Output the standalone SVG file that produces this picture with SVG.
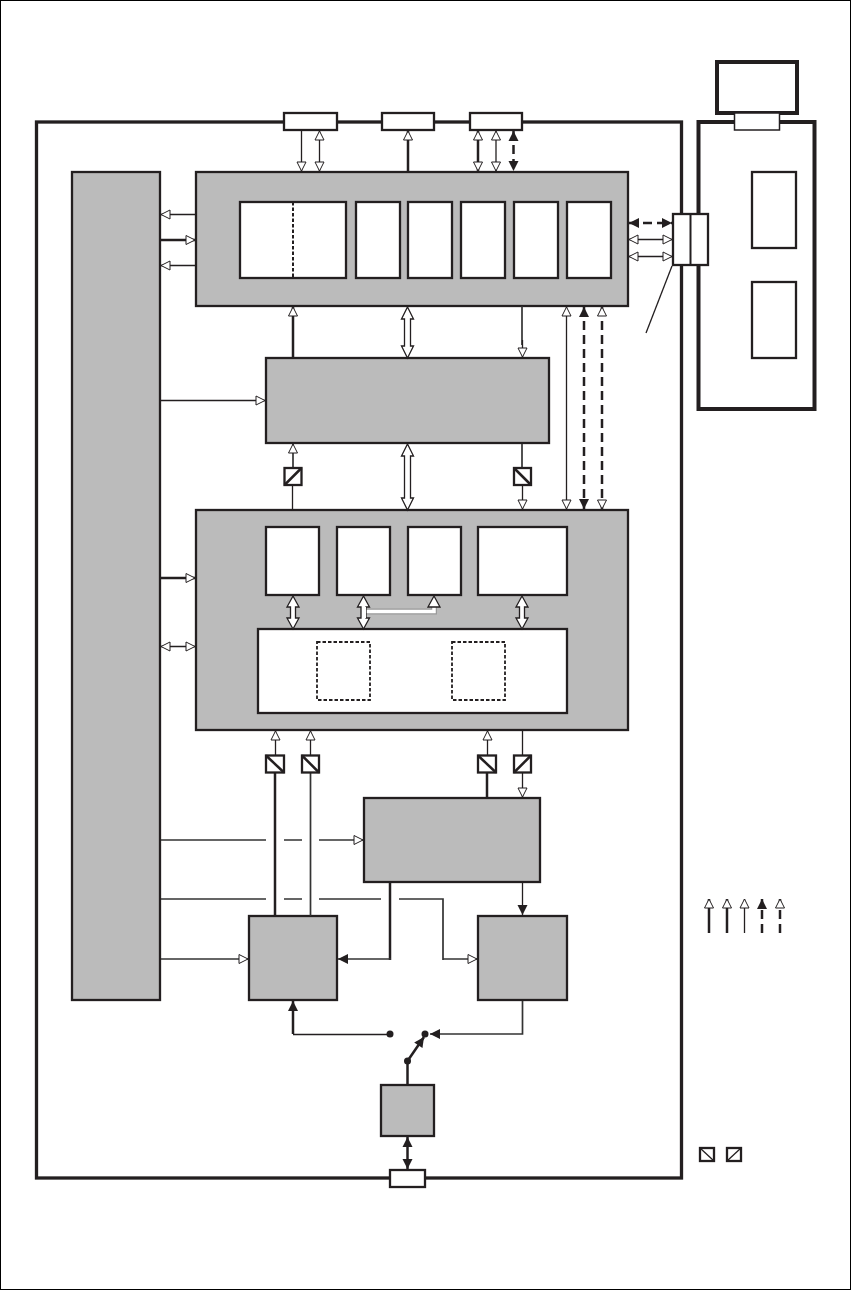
<svg xmlns="http://www.w3.org/2000/svg" width="851" height="1290" viewBox="0 0 851 1290">
<style>
.g{fill:#bbb;stroke:#231f20;stroke-width:2.300}
.w{fill:#fff;stroke:#231f20;stroke-width:2.300}
.d{fill:#fff;stroke:#231f20;stroke-width:1.800;stroke-dasharray:3.500 2}
.l{fill:none;stroke:#231f20;stroke-width:1.300}
.m{fill:none;stroke:#333;stroke-width:1.700}
.t{fill:none;stroke:#231f20;stroke-width:2.500}
.k{fill:none;stroke:#231f20;stroke-width:2.500;stroke-dasharray:9 5}
.wide{fill:#fff;stroke:#231f20;stroke-width:1.300}
.o{marker-end:url(#open)}
.os{marker-start:url(#open)}
.f{marker-end:url(#fill)}
.fs{marker-start:url(#fill)}
</style>
<defs>
<marker id="open" markerUnits="userSpaceOnUse" markerWidth="13" markerHeight="13" refX="9.500" refY="5.500" orient="auto-start-reverse" overflow="visible"><path d="M0.500 1 L9.500 5.500 L0.500 10Z" fill="#fff" stroke="#231f20" stroke-width="1"/></marker>
<marker id="fill" markerUnits="userSpaceOnUse" markerWidth="13" markerHeight="13" refX="10" refY="5.500" orient="auto-start-reverse" overflow="visible"><path d="M0 0.500 L10 5.500 L0 10.500Z" fill="#231f20"/></marker>
</defs>
<rect x="0.500" y="0.500" width="850" height="1289" fill="#fff" stroke="#000" stroke-width="1"/>
<g id="main-frame"><rect x="36.500" y="122" width="645" height="1056" fill="#fff" stroke="#231f20" stroke-width="3.300"/></g>
<g id="display-unit">
<rect x="698.500" y="122" width="116" height="287" fill="#fff" stroke="#231f20" stroke-width="4"/>
<rect x="752" y="172" width="44" height="76" class="w"/>
<rect x="752" y="282" width="44" height="76" class="w"/>
</g>
<g id="monitor"><rect x="717" y="62" width="80" height="51" fill="#fff" stroke="#231f20" stroke-width="4"/></g>
<g id="display-port"><rect x="734.500" y="113" width="45" height="17" fill="#fff" stroke="#231f20" stroke-width="1.500"/></g>
<g id="port-a"><rect x="284" y="113" width="53" height="17" class="w"/></g>
<g id="port-b"><rect x="382" y="113" width="52" height="17" class="w"/></g>
<g id="port-c"><rect x="470" y="113" width="52" height="17" class="w"/></g>
<g id="bottom-port"><rect x="390" y="1170" width="35" height="17" class="w"/></g>
<g id="left-block"><rect x="72" y="172" width="88" height="828" class="g"/></g>
<g id="top-block">
<rect x="196" y="172" width="432" height="134" class="g"/>
<rect x="240" y="202" width="106" height="76" class="w"/>
<line x1="293" y1="202" x2="293" y2="278" stroke="#231f20" stroke-width="2" stroke-dasharray="3.500 2"/>
<rect x="356" y="202" width="44" height="76" class="w"/>
<rect x="408" y="202" width="44" height="76" class="w"/>
<rect x="461" y="202" width="44" height="76" class="w"/>
<rect x="514" y="202" width="44" height="76" class="w"/>
<rect x="567" y="202" width="44" height="76" class="w"/>
</g>
<g id="middle-block"><rect x="266" y="358" width="283" height="85" class="g"/></g>
<g id="lower-block">
<rect x="196" y="510" width="432" height="220" class="g"/>
<rect x="266" y="527" width="53" height="68" class="w"/>
<rect x="337" y="527" width="53" height="68" class="w"/>
<rect x="408" y="527" width="53" height="68" class="w"/>
<rect x="478" y="527" width="89" height="68" class="w"/>
<rect x="258" y="629" width="309" height="84" class="w"/>
<rect x="317" y="642" width="53" height="58" class="d"/>
<rect x="452" y="642" width="53" height="58" class="d"/>
</g>
<g id="block-right-mid"><rect x="364" y="798" width="176" height="84" class="g"/></g>
<g id="block-left-low"><rect x="249" y="916" width="88" height="84" class="g"/></g>
<g id="block-right-low"><rect x="478" y="916" width="89" height="84" class="g"/></g>
<g id="block-bottom"><rect x="381" y="1085" width="53" height="51" class="g"/></g>
<g id="connectors">
<path class="l o" d="M301.500 130V171"/>
<path class="l o os" d="M319.500 131V171"/>
<path class="t o" d="M408 172V131"/>
<path class="t o os" d="M478 131V171"/>
<path class="l o os" d="M496 131V171"/>
<path class="k f fs" d="M513.500 131V171"/>
<path class="l o" d="M196 214.500H161"/>
<path class="t o" d="M161 240H195"/>
<path class="l o" d="M196 265.500H161"/>
<path class="k f fs" d="M629 223H672"/>
<path class="l o os" d="M629 239.500H672"/>
<path class="l o os" d="M629 256.500H672"/>
<path class="l" d="M672 266L646 333"/>
<path class="t o" d="M293 358V307"/>
<path class="wide" d="M407.500 307L413.500 319H410.500V346H413.500L407.500 358L401.500 346H404.500V319H401.500Z"/>
<path class="m" d="M522 306V345"/>
<path class="l o" d="M522.500 340V357"/>
<path class="l o os" d="M566.500 307V509"/>
<path class="k f fs" d="M584 307V509"/>
<path class="k o os" d="M602 307V509"/>
<path class="l o" d="M161 400.500H265"/>
<path class="m o" d="M293 468V444"/>
<path class="l" d="M292.500 485V511"/>
<path class="wide" d="M407.500 444L413.500 456H410.500V498H413.500L407.500 510L401.500 498H404.500V456H401.500Z"/>
<path class="m" d="M522 444V468"/>
<path class="l o" d="M522.500 485V509"/>
<path class="t o" d="M161 578H195"/>
<path class="l o os" d="M161 646.500H195"/>
<path class="wide" d="M293 596L299 607H295.500V618H299L293 629L287 618H290.500V607H287Z"/>
<path d="M366 611.500H434V604" fill="none" stroke="#999" stroke-width="6"/>
<path d="M366 611.500H434V604" fill="none" stroke="#fff" stroke-width="3.500"/>
<path class="wide" d="M363.500 596L369.500 607H366V618H369.500L363.500 629L357.500 618H361V607H357.500Z"/>
<path d="M365 607V618" stroke="#fff" stroke-width="2"/>
<path class="wide" d="M434 596L440 607H428Z"/>
<path class="wide" d="M522 596L528 607H524.500V618H528L522 629L516 618H519.500V607H516Z"/>
<path class="l o" d="M275.500 755V731"/>
<path class="l o" d="M310.500 755V731"/>
<path class="l o" d="M487.500 755V731"/>
<path class="l" d="M522.500 730V755"/>
<path class="l o" d="M522.500 773V797"/>
<path class="t" d="M275 773V916"/>
<path class="m" d="M310.500 773V916"/>
<path class="t" d="M487 773V798"/>
<path class="m" d="M161 840H266M284 840H302"/>
<path class="m o" d="M319 840H363"/>
<path class="m" d="M161 899H266M284 899H302M319 899H381M399 899H443V960"/>
<path class="m o" d="M443 959H477"/>
<path class="m o" d="M161 959H248"/>
<path class="t" d="M390 882V960"/>
<path class="m f" d="M391 959H338"/>
<path class="l f" d="M522.500 883V915"/>
<path class="t f" d="M293 1034V1001"/>
<path class="l" d="M293 1034.500H390"/>
<path class="m f" d="M522.500 1001V1034H430"/>
<path class="t f" d="M407.500 1061L424 1037"/>
<path class="t" d="M407.500 1061V1085"/>
<path class="t f fs" d="M407.500 1137V1169"/>
<circle cx="390" cy="1034" r="3.500" fill="#231f20"/>
<circle cx="425" cy="1034" r="3.500" fill="#231f20"/>
<circle cx="407.500" cy="1061" r="3.500" fill="#231f20"/>
</g>
<g id="converter-1"><rect x="284.500" y="468" width="17" height="17" class="w"/><path class="t" d="M284.500 485L301.500 468"/></g>
<g id="converter-2"><rect x="514" y="468" width="17" height="17" class="w"/><path class="t" d="M514 468L531 485"/></g>
<g id="converter-3"><rect x="266" y="755.500" width="18" height="17" class="w"/><path class="t" d="M266 755.500L284 772.500"/></g>
<g id="converter-4"><rect x="302" y="755.500" width="17" height="17" class="w"/><path class="t" d="M302 755.500L319 772.500"/></g>
<g id="converter-5"><rect x="478" y="755.500" width="18" height="17" class="w"/><path class="t" d="M478 755.500L496 772.500"/></g>
<g id="converter-6"><rect x="514" y="755.500" width="17" height="17" class="w"/><path class="t" d="M514 772.500L531 755.500"/></g>
<g id="cable-connector"><rect x="673" y="214" width="35" height="51" class="w"/><line x1="690.500" y1="214" x2="690.500" y2="265" stroke="#231f20" stroke-width="2"/></g>
<g id="legend">
<path class="t o" d="M709 933V899"/>
<path class="t o" d="M727 933V899"/>
<path class="l o" d="M744.500 933V899"/>
<path class="k f" d="M762 933V899"/>
<path class="k o" d="M780 933V899"/>
<g><rect x="700" y="1148" width="14" height="13" class="w"/><path class="l" d="M700 1148L714 1161"/></g>
<g><rect x="727" y="1148" width="14" height="13" class="w"/><path class="l" d="M727 1161L741 1148"/></g>
</g>
</svg>
